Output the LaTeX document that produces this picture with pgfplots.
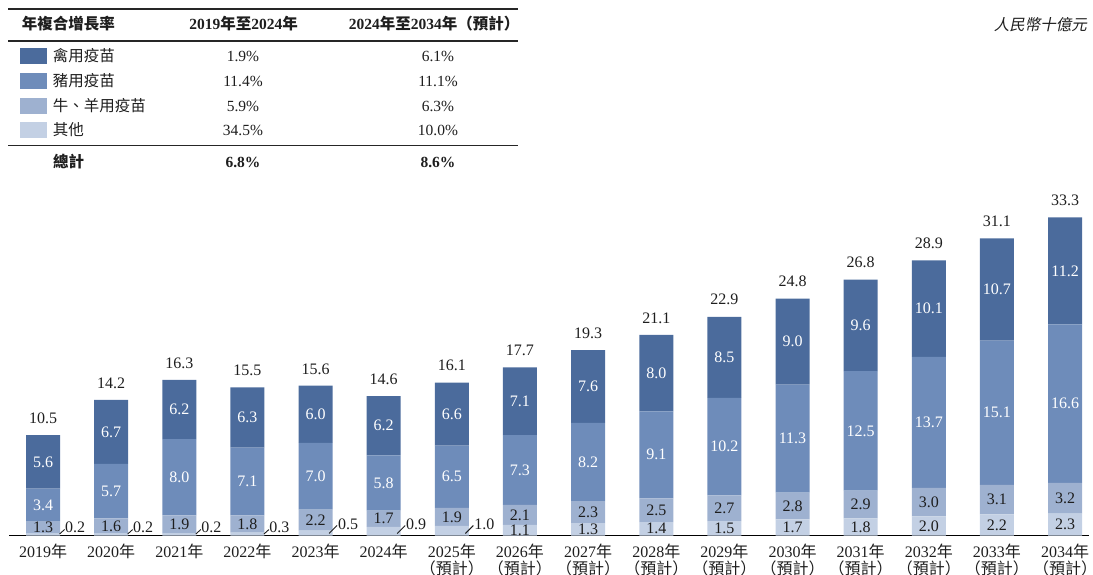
\documentclass[border=0pt]{standalone}
\usepackage{fontspec}
\setmainfont{Liberation Serif}
\newfontfamily\cjk{Noto Sans CJK TC}
\newfontfamily\cjkh{Noto Sans CJK TC}[CharacterWidth=AlternateHalf]
\newfontfamily\cjkit{Noto Sans CJK TC}[FakeSlant=0.2]
\usepackage{pgfplots}
\usepackage{pgfplotstable}
\pgfplotsset{compat=1.18}
\definecolor{cPoul}{RGB}{75,107,156}
\definecolor{cPig}{RGB}{110,140,186}
\definecolor{cCat}{RGB}{158,177,208}
\definecolor{cOth}{RGB}{195,208,228}
\definecolor{txt}{RGB}{30,30,30}
\newcommand\N{{\cjk 年}}
\newcommand\Y{{\cjkh （預計）}}
\newcommand\tabfont{\fontsize{15.5}{18}\selectfont}
\newcommand\barfont{\fontsize{16}{17}\selectfont}

\pgfplotstableread{
x o c p q
0 0.2 1.3 3.4 5.6
1 0.2 1.6 5.7 6.7
2 0.2 1.9 8.0 6.2
3 0.3 1.8 7.1 6.3
4 0.5 2.2 7.0 6.0
5 0.9 1.7 5.8 6.2
6 1.0 1.9 6.5 6.6
7 1.1 2.1 7.3 7.1
8 1.3 2.3 8.2 7.6
9 1.4 2.5 9.1 8.0
10 1.5 2.7 10.2 8.5
11 1.7 2.8 11.3 9.0
12 1.8 2.9 12.5 9.6
13 2.0 3.0 13.7 10.1
14 2.2 3.1 15.1 10.7
15 2.3 3.2 16.6 11.2
}\datatable

\pgfplotstableread{
x s t
0 10.5 10.5
1 14.2 14.2
2 16.3 16.3
3 15.5 15.5
4 15.6 15.6
5 14.6 14.6
6 16.0 16.1
7 17.6 17.7
8 19.4 19.3
9 21.0 21.1
10 22.9 22.9
11 24.8 24.8
12 26.8 26.8
13 28.8 28.9
14 31.1 31.1
15 33.3 33.3
}\totaltable

\pgfplotsset{myax/.style={at={(9pt,38.5pt)}, anchor=south west, scale only axis,
  width=1079.9pt, height=334.25pt, xmin=-0.5, xmax=15.35, ymin=0, ymax=35, clip=false}}

\begin{document}
\begin{tikzpicture}
\useasboundingbox (0,0) rectangle (1093pt,574pt);
% ---------- CAGR table ----------
\draw[line width=1.3pt, black!85] (8.3pt,565pt) -- (517.7pt,565pt);
\draw[line width=1.1pt, black!85] (8.3pt,533pt) -- (517.7pt,533pt);
\draw[line width=1.4pt, black!85] (8.3pt,428.3pt) -- (517.7pt,428.3pt);
\begin{scope}[every node/.style={inner sep=0pt, text=txt, font=\tabfont}]
\node[anchor=base west, font=\tabfont\bfseries] at (21.7pt,544.5pt) {{\cjk 年複合增長率}};
\node[anchor=base, font=\tabfont\bfseries] at (243.7pt,544.5pt) {2019{\cjk 年至}2024{\cjk 年}};
\node[anchor=base, font=\tabfont\bfseries] at (434.2pt,544.5pt) {2024{\cjk 年至}2034{\cjk 年（預計）}};
\fill[cPoul] (20pt,510.2pt) rectangle (46.7pt,525.8pt);
\fill[cPig]  (20pt,485.2pt) rectangle (46.7pt,500.8pt);
\fill[cCat]  (20pt,460.2pt) rectangle (46.7pt,475.8pt);
\fill[cOth]  (20pt,436.2pt) rectangle (46.7pt,451.8pt);
\node[anchor=base west] at (52.7pt,512.5pt) {{\cjk 禽用疫苗}};
\node[anchor=base west] at (52.7pt,487.5pt) {{\cjk 豬用疫苗}};
\node[anchor=base west] at (52.7pt,462.5pt) {{\cjk 牛、羊用疫苗}};
\node[anchor=base west] at (52.7pt,438.5pt) {{\cjk 其他}};
\node[anchor=base] at (243pt,512.5pt) {1.9\%};
\node[anchor=base] at (243pt,487.5pt) {11.4\%};
\node[anchor=base] at (243pt,462.5pt) {5.9\%};
\node[anchor=base] at (243pt,438.5pt) {34.5\%};
\node[anchor=base] at (438pt,512.5pt) {6.1\%};
\node[anchor=base] at (438pt,487.5pt) {11.1\%};
\node[anchor=base] at (438pt,462.5pt) {6.3\%};
\node[anchor=base] at (438pt,438.5pt) {10.0\%};
\node[anchor=base west, font=\tabfont\bfseries] at (53pt,406.2pt) {{\cjk 總計}};
\node[anchor=base, font=\tabfont\bfseries] at (243pt,406.2pt) {6.8\%};
\node[anchor=base, font=\tabfont\bfseries] at (438pt,406.2pt) {8.6\%};
\node[anchor=base east] at (1087pt,543.5pt) {{\cjkit 人民幣十億元}};
\end{scope}
% ---------- bars ----------
\begin{axis}[myax, ybar stacked, bar width=34pt,
  axis x line=bottom, axis y line=none,
  x axis line style={-, line width=1.3pt, black},
  xtick={0,...,15}, xtick style={draw=none}, major tick length=0pt,
  xticklabels={2019\N,2020\N,2021\N,2022\N,2023\N,2024\N,
    {2025\N\\\Y},{2026\N\\\Y},{2027\N\\\Y},{2028\N\\\Y},{2029\N\\\Y},
    {2030\N\\\Y},{2031\N\\\Y},{2032\N\\\Y},{2033\N\\\Y},{2034\N\\\Y}},
  xticklabel style={font=\barfont, align=center, anchor=north, inner sep=0pt, yshift=-8pt, text=txt},
  ytick=\empty]
\addplot[fill=cOth, draw=none] table[x=x, y=o] {\datatable};
\addplot[fill=cCat, draw=none] table[x=x, y=c] {\datatable};
\addplot[fill=cPig, draw=none] table[x=x, y=p] {\datatable};
\addplot[fill=cPoul, draw=none] table[x=x, y=q] {\datatable};
\end{axis}
% ---------- labels ----------
\begin{axis}[myax, hide axis,
  nodes near coords, point meta=explicit symbolic, nodes near coords align={center},
  every node near coord/.append style={font=\barfont, inner sep=0pt}]
\addplot[draw=none, mark=none, every node near coord/.append style={text=white}]
  table[x=x, y expr=\thisrow{o}+\thisrow{c}+\thisrow{p}+\thisrow{q}/2, meta=q] {\datatable};
\addplot[draw=none, mark=none, every node near coord/.append style={text=white}]
  table[x=x, y expr=\thisrow{o}+\thisrow{c}+\thisrow{p}/2, meta=p] {\datatable};
\addplot[draw=none, mark=none, every node near coord/.append style={text=txt}]
  table[x=x, y expr=\thisrow{o}+\thisrow{c}/2, meta=c] {\datatable};
\addplot[draw=none, mark=none, restrict x to domain=7:15, every node near coord/.append style={text=txt}]
  table[x=x, y expr=\thisrow{o}/2, meta=o] {\datatable};
\addplot[draw=none, mark=none, restrict x to domain=0:3, every node near coord/.append style={text=txt, xshift=32pt, yshift=8.7pt}]
  table[x=x, y expr=0, meta=o] {\datatable};
\addplot[draw=none, mark=none, restrict x to domain=4:6, every node near coord/.append style={text=txt, xshift=32.5pt, yshift=11.5pt}]
  table[x=x, y expr=0, meta=o] {\datatable};
\addplot[draw=none, mark=none, every node near coord/.append style={text=txt, yshift=17pt}]
  table[x=x, y=s, meta=t] {\totaltable};
\pgfplotsinvokeforeach{0,1,2,3}{
  \draw[line width=0.9pt, txt] ([xshift=16.5pt,yshift=1.5pt]axis cs:#1,0) -- ([xshift=21.5pt,yshift=6pt]axis cs:#1,0);
}
\pgfplotsinvokeforeach{4,5,6}{
  \draw[line width=0.9pt, txt] ([xshift=13.5pt,yshift=2pt]axis cs:#1,0) -- ([xshift=21.5pt,yshift=10pt]axis cs:#1,0);
}
\end{axis}
\end{tikzpicture}
\end{document}
